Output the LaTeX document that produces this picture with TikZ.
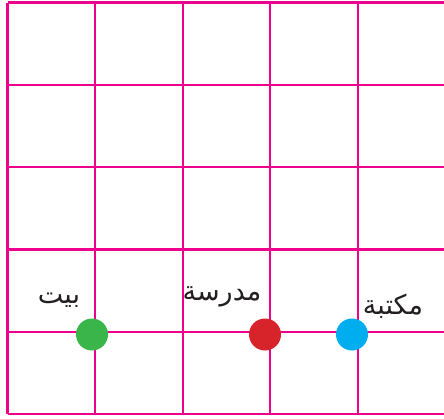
\documentclass[tikz,border=0pt]{standalone}
\usepackage{fontspec}
\newfontfamily\arabicfont[Script=Arabic]{DejaVu Sans}
\TeXXeTstate=1
\definecolor{gridpink}{HTML}{EC008C}
\definecolor{dotgreen}{HTML}{3AB54A}
\definecolor{dotred}{HTML}{D7232A}
\definecolor{dotblue}{HTML}{00AEEF}
\definecolor{textgray}{HTML}{231F20}
\tikzset{
  gridline/.style={draw=gridpink, line width=2.2pt},
  place/.style={circle, inner sep=0pt, minimum size=32pt},
  placelabel/.style={text=textgray, font=\arabicfont\fontsize{27}{30}\selectfont, inner sep=0pt}
}
\begin{document}
\begin{tikzpicture}[x=1pt,y=-1pt]
\useasboundingbox (0,0) rectangle (444,418);
% horizontal lines
\foreach \yy in {2.5,84.8,167.1,249.4,331.7,414}
  \draw[gridline] (7.5,\yy) -- (444,\yy);
% vertical lines
\foreach \xx in {7.5,95,182.6,270.2,357.8}
  \draw[gridline] (\xx,2.5) -- (\xx,414);
% dots
\node[place, fill=dotgreen] (home) at (92,334.5) {};
\node[place, fill=dotred] (school) at (265,334.5) {};
\node[place, fill=dotblue] (library) at (352,334.5) {};
% labels
\node[placelabel] (homelabel) at (59,300) {\beginR بيت\endR};
\node[placelabel] (schoollabel) at (222,297) {\beginR مدرسة\endR};
\node[placelabel] (librarylabel) at (393,306) {\beginR مكتبة\endR};
\end{tikzpicture}
\end{document}
